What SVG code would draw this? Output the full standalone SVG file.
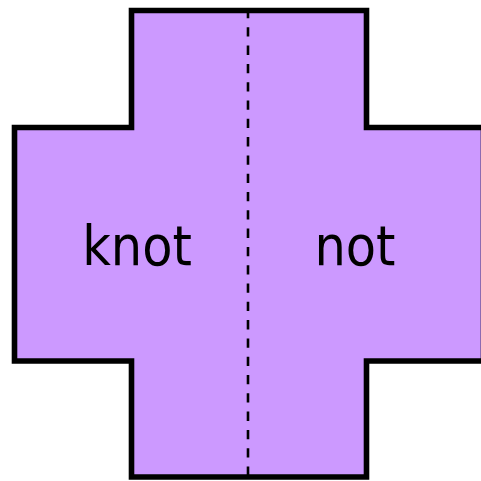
<svg xmlns="http://www.w3.org/2000/svg" width="481" height="481" viewBox="0 0 481 481">
  <style>
    .shape { fill: #CC99FF; stroke: #000000; stroke-width: 5.6; stroke-linejoin: miter; }
    .fold { stroke: #000000; stroke-width: 2.6; stroke-dasharray: 9.3 9; fill: none; }
    .label { font-family: "DejaVu Sans Condensed", "DejaVu Sans", sans-serif; font-stretch: condensed; font-size: 55px; fill: #000000; text-anchor: middle; }
  </style>
  <g id="cross">
    <path class="shape" d="M131.5,10.5 H366.5 V127.5 H483.5 V361 H366.5 V477 H131.5 V361 H14.5 V127.5 H131.5 Z"/>
  </g>
  <g id="connectors">
    <line class="fold" x1="248" y1="9" x2="248" y2="476"/>
  </g>
  <g id="knot">
    <text class="label" x="137" y="265">knot</text>
  </g>
  <g id="not">
    <text class="label" x="355" y="265">not</text>
  </g>
</svg>
